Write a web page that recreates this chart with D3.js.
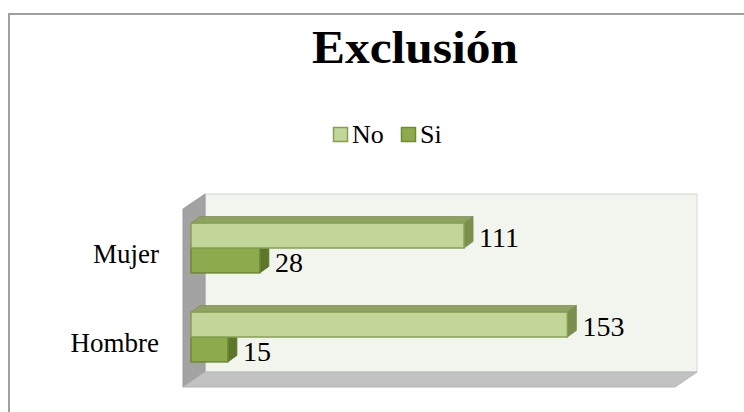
<!DOCTYPE html>
<html>
<head>
<meta charset="utf-8">
<script src="https://cdn.jsdelivr.net/npm/d3@7"></script>
<style>
  body { margin: 0; background: #fff; }
  text { font-family: "Liberation Serif", "DejaVu Serif", serif; fill: #000; }
</style>
</head>
<body>
<div id="chart-area"></div>
<script>
// data
let categories = ["Mujer", "Hombre"];
let seriesNames = ["No", "Si"];
let noValues = [111, 153];
let siValues = [28, 15];
let axisMax = 200;

let colors = {
	No: { front: "#c2d69a", top: "#8fa263", side: "#7b8f4e", stroke: "#86a052" },
	Si: { front: "#8dab4c", top: "#6f8a36", side: "#5d772a", stroke: "#6d8a35" }
};

let width = 744, height = 412;

let svg = d3.select("#chart-area").append("svg")
	.attr("width", width)
	.attr("height", height);

// outer frame
svg.append("rect")
	.attr("x", 9).attr("y", 14)
	.attr("width", 760).attr("height", 420)
	.attr("fill", "none")
	.attr("stroke", "#a0a0a0")
	.attr("stroke-width", 2);

// title
svg.append("text")
	.attr("x", 415)
	.attr("y", 63)
	.attr("text-anchor", "middle")
	.attr("font-size", "46px")
	.attr("font-weight", "bold")
	.attr("textLength", 206)
	.attr("lengthAdjust", "spacingAndGlyphs")
	.text("Exclusión");

// legend
let legendX = [333, 401];
let legend = svg.selectAll(".legend").data(seriesNames).enter()
	.append("g").attr("class", "legend")
	.attr("transform", (d, i) => "translate(" + legendX[i] + ",127)");
legend.append("rect")
	.attr("x", 0.5).attr("y", 0.5)
	.attr("width", 14).attr("height", 14)
	.attr("fill", d => colors[d].front)
	.attr("stroke", d => colors[d].stroke)
	.attr("stroke-width", 1.5);
legend.append("text")
	.attr("x", 19)
	.attr("y", 16)
	.attr("font-size", "26px")
	.text(d => d);

// 3d plot frame
let front = { x: 183, top: 209, bottom: 387 };
let depth = { dx: 22, dy: -15 };

let x = d3.scaleLinear()
	.domain([0, axisMax])
	.range([0, 492]);

let y = d3.scaleBand()
	.domain(categories)
	.range([front.top, front.bottom])
	.paddingInner(0.44)
	.paddingOuter(0.22);

let ySub = d3.scaleBand()
	.domain(seriesNames)
	.range([0, y.bandwidth()]);

let wallRight = front.x + x(axisMax);

// back wall
svg.append("rect")
	.attr("x", front.x + depth.dx)
	.attr("y", front.top + depth.dy)
	.attr("width", x(axisMax))
	.attr("height", front.bottom - front.top)
	.attr("fill", "#f1f5ed")
	.attr("stroke", "#d6d9d3")
	.attr("stroke-width", 1);

// left wall
svg.append("polygon")
	.attr("points", [
		[front.x, front.top],
		[front.x + depth.dx, front.top + depth.dy],
		[front.x + depth.dx, front.bottom + depth.dy],
		[front.x, front.bottom]
	].join(" "))
	.attr("fill", "#a3a3a3")
	.attr("stroke", "#9a9a9a");

// floor
svg.append("polygon")
	.attr("points", [
		[front.x, front.bottom],
		[front.x + depth.dx, front.bottom + depth.dy],
		[wallRight + depth.dx, front.bottom + depth.dy],
		[wallRight, front.bottom]
	].join(" "))
	.attr("fill", "#c2c2c2")
	.attr("stroke", "#b5b5b5");

// bars: lower bar of each pair drawn first so the upper one hides its top
let rows = [];
categories.forEach((c, i) => {
	rows.push({ cat: c, series: "Si", value: siValues[i] });
	rows.push({ cat: c, series: "No", value: noValues[i] });
});

let barOff = { dx: 8, dy: -5.5 };   // bar front plane inside the depth
let barDepth = { dx: 9, dy: -6.5 };

let bars = svg.selectAll(".bar").data(rows).enter()
	.append("g").attr("class", "bar");

function bx(d) { return front.x + barOff.dx; }
function by(d) { return y(d.cat) + ySub(d.series) + barOff.dy; }
function bw(d) { return x(d.value); }
let bh = ySub.bandwidth();

// top face
bars.append("polygon")
	.attr("points", d => {
		let x0 = bx(d), y0 = by(d), w = bw(d);
		return [[x0, y0], [x0 + barDepth.dx, y0 + barDepth.dy],
			[x0 + w + barDepth.dx, y0 + barDepth.dy], [x0 + w, y0]].join(" ");
	})
	.attr("fill", d => colors[d.series].top)
	.attr("stroke", d => colors[d.series].side)
	.attr("stroke-width", 0.8);

// side face
bars.append("polygon")
	.attr("points", d => {
		let x0 = bx(d) + bw(d), y0 = by(d);
		return [[x0, y0], [x0 + barDepth.dx, y0 + barDepth.dy],
			[x0 + barDepth.dx, y0 + bh + barDepth.dy], [x0, y0 + bh]].join(" ");
	})
	.attr("fill", d => colors[d.series].side)
	.attr("stroke", d => colors[d.series].side)
	.attr("stroke-width", 0.8);

// front face
bars.append("rect")
	.attr("x", d => bx(d))
	.attr("y", d => by(d))
	.attr("width", d => bw(d))
	.attr("height", bh)
	.attr("fill", d => colors[d.series].front)
	.attr("stroke", d => colors[d.series].stroke)
	.attr("stroke-width", 1.5);

// value labels
bars.append("text")
	.attr("x", d => bx(d) + bw(d) + barDepth.dx + 6)
	.attr("y", d => by(d) + bh / 2)
	.attr("dy", "0.42em")
	.attr("font-size", "28px")
	.text(d => d.value);

// category labels
svg.selectAll(".cat").data(categories).enter()
	.append("text").attr("class", "cat")
	.attr("x", 159)
	.attr("y", d => y(d) + y.bandwidth() / 2)
	.attr("dy", "0.35em")
	.attr("text-anchor", "end")
	.attr("font-size", "27px")
	.text(d => d);
</script>
</body>
</html>
